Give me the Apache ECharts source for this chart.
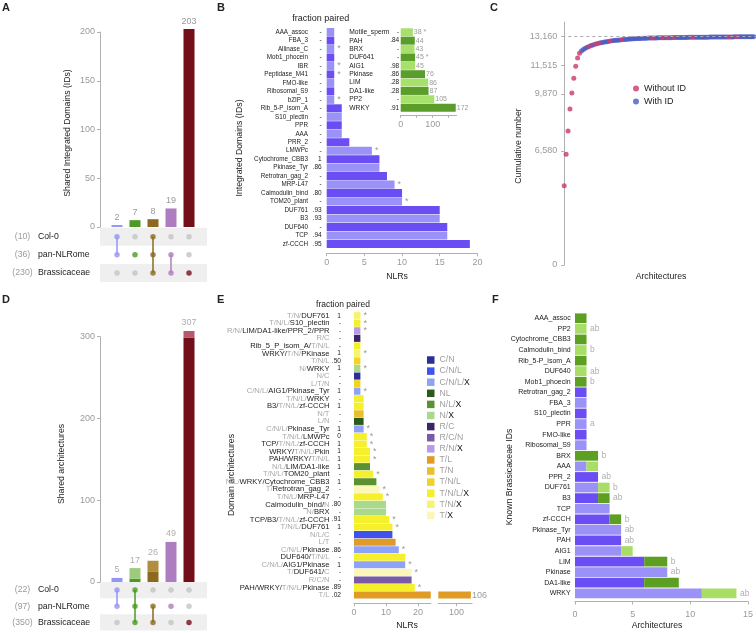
<!DOCTYPE html>
<html><head><meta charset="utf-8">
<script src="https://cdn.jsdelivr.net/npm/echarts@6/dist/echarts.min.js"></script>
<style>html,body{margin:0;padding:0;background:#fff}#c{width:756px;height:633px}</style>
</head><body><div id="c"></div>
<script>
// ---------------- DATA ----------------
// Panel A (UpSet of integrated domains)
const setNames = ['Col-0', 'pan-NLRome', 'Brassicaceae'];
const aSetSizes = [10, 36, 230];
const aValues = [2, 7, 8, 19, 203];
const aMembers = [[1,1,0],[0,1,0],[1,1,1],[0,1,1],[0,0,1]];
// Panel D (UpSet of architectures)
const dSetSizes = [22, 97, 350];
const dLower = [5, 4, 13, 49, 299];
const dUpper = [0, 13, 13, 0, 8];
const dMembers = [[1,1,0],[1,1,1],[0,1,1],[0,1,0],[0,0,1]];
// Panel B (integrated domains)
const bNames = ['AAA_assoc','FBA_3','Allinase_C','Mob1_phocein','IBR','Peptidase_M41','FMO-like','Ribosomal_S9','bZIP_1','Rib_5-P_isom_A','S10_plectin','PPR','AAA','PRR_2','LMWPc','Cytochrome_CBB3','Pkinase_Tyr','Retrotran_gag_2','MRP-L47','Calmodulin_bind','TOM20_plant','DUF761','B3','DUF640','TCP','zf-CCCH'];
const bValues = [1,1,1,1,1,1,1,1,1,2,2,2,2,3,6,7,7,8,9,10,10,15,15,16,16,19];
const bFrac = ['-','-','-','-','-','-','-','-','-','-','-','-','-','-','-','1','.86','-','-','.80','-','.93','.93','-','.94','.95'];
const bStars = [2,4,5,8,14,18,20];
// Panel B inset
const biNames = ['Motile_sperm','PAH','BRX','DUF641','AIG1','Pkinase','LIM','DA1-like','PP2','WRKY'];
const biValues = [38,44,43,45,45,76,86,87,105,172];
const biFrac = ['-','.84','-','-','.98','.86','.28','.28','-','.91'];
const biStars = [0,3];
// Panel C (cumulative architectures)
const cumNLR = [4570,6380,7720,8990,9910,10760,11450,11930,12200,12330,
  12420,12490,12550,12600,12645,12685,12720,12750,12780,12805,
  12830,12850,12870,12888,12905,12920,12935,12948,12960,12972,
  12983,12993,13003,13012,13020,13028,13035,13042,13048,13054,
  13059,13064,13069,13073,13077,13080,13083,13086,13089,13091,
  13093,13095,13097,13099,13101,13103,13105,13107,13109,13111,
  13113,13114,13116,13117,13119,13120,13122,13123,13124,13126,
  13127,13128,13130,13131,13132,13133,13135,13136,13137,13138,
  13139,13140,13141,13143,13144,13145,13146,13147,13148,13149,
  13150,13151,13152,13153,13154,13155,13156,13157,13158,13160];
const noIdRanks = [0,1,2,3,4,5,6,7,8,13,16,18,24,30,46,51,54,57,67,86,90];
const cTicks = [0, 6580, 9870, 11515, 13160];
// Panel E (domain architectures)
const eNames = ['T/N/DUF761','T/N/L/S10_plectin','R/N/LIM/DA1-like/PPR_2/PPR','R/C','Rib_5_P_isom_A/T/N/L','WRKY/T/N/PKinase','T/N/L','N/WRKY','N/C','L/T/N','C/N/L/AIG1/Pkinase_Tyr','T/N/L/WRKY','B3/T/N/L/zf-CCCH','N/T','L/N','C/N/L/Pkinase_Tyr','T/N/L/LMWPc','TCP/T/N/L/zf-CCCH','WRKY/T/N/L/Pkin','PAH/WRKY/T/N/L','N/L/LIM/DA1-like','T/N/L/TOM20_plant','N/L/WRKY/Cytochrome_CBB3','T/Retrotran_gag_2','T/N/L/MRP-L47','Calmodulin_bind/N','N/BRX','TCP/B3/T/N/L/zf-CCCH','T/N/L/DUF761','N/L/C','L/T','C/N/L/Pkinase','DUF640/T/N/L','C/N/L/AIG1/Pkinase','T/DUF641/C','R/C/N','PAH/WRKY/T/N/L/Pkinase','T/L'];
const eValues = [2,2,2,2,2,2,2,2,2,2,2,3,3,3,3,3,4,4,5,5,5,6,7,8,9,10,10,11,12,12,13,14,16,16,18,18,19,106];
const eFrac = ['1','-','-','-','-','1','.50','1','-','-','1','-','1','-','-','1','0','1','1','1','1','-','1','-','-','.80','-','.91','1','-','-','.86','-','1','-','-','.89','.02'];
const eType = ['T/N/X','T/N/L/X','R/N/X','R/C','T/N/L/X','T/N/X','T/N/L','N/X','C/N','T/N/L','C/N/L/X','T/N/L/X','T/N/L/X','T/N','NL','C/N/L/X','T/N/L/X','T/N/L/X','T/N/L/X','T/N/L/X','N/L/X','T/N/L/X','N/L/X','T/X','T/N/L/X','N/X','N/X','T/N/L/X','T/N/L/X','C/N/L','T/L','C/N/L/X','T/N/L/X','C/N/L/X','T/X','R/C/N','T/N/L/X','T/L'];
const eStars = [0,1,2,5,7,10,15,16,17,18,19,21,23,24,27,28,31,33,34,36];
const eTypes = ['C/N','C/N/L','C/N/L/X','NL','N/L/X','N/X','R/C','R/C/N','R/N/X','T/L','T/N','T/N/L','T/N/L/X','T/N/X','T/X'];
const eTicks2 = [100];
// Panel F (known Brassicaceae IDs)
const fNames = ['AAA_assoc','PP2','Cytochrome_CBB3','Calmodulin_bind','Rib_5-P_isom_A','DUF640','Mob1_phoecin','Retrotran_gag_2','FBA_3','S10_plectin','PPR','FMO-like','Ribosomal_S9','BRX','AAA','PPR_2','DUF761','B3','TCP','zf-CCCH','Pkinase_Tyr','PAH','AIG1','LIM','Pkinase','DA1-like','WRKY'];
const fPurple = [0,0,0,0,0,0,0,1,1,1,1,1,1,0,1,2,2,2,3,3,4,4,4,6,8,6,11];
const fGreen  = [1,1,1,1,1,1,1,0,0,0,0,0,0,2,1,0,1,1,0,1,0,0,1,2,0,3,3];
const fLetters = ['','ab','','b','','ab','b','','','','a','','','b','','ab','b','ab','','b','ab','ab','','b','ab','','ab'];

// ---------------- STYLE ----------------
const FONT = "'Liberation Sans', Arial, Helvetica, sans-serif";
const GR = '#9a9a9a';
const AXC = '#b0b0b0';
const TXT = '#222';
const upColors = ['#9595f7', '#4c9a23', '#8b6a1f', '#b07cc0', '#720f1a'];
const dUpColors = ['#9595f7', '#9ccb7b', '#b08d3f', '#b07cc0', '#b45a70'];
const PD = '#6b4ef3', PL = '#9b92f7', GD = '#5c9f22', GL = '#a8de66';
const typeColor = {'C/N':'#2a2f98','C/N/L':'#3f52ee','C/N/L/X':'#8ea2f6','NL':'#2c5a1d','N/L/X':'#5b9132','N/X':'#a9d98b','R/C':'#3b2566','R/C/N':'#7a5aa8','R/N/X':'#b99ae9','T/L':'#e09b26','T/N':'#e8bf2c','T/N/L':'#f0d324','T/N/L/X':'#f6ef2c','T/N/X':'#f8f36e','T/X':'#fbf7b9'};

const tickLbl = (m) => ({color: GR, fontSize: 9, fontFamily: FONT, margin: m});
const grayTok = new Set(['C','N','L','T','R']);
function richArch(name) {
  const parts = name.split('/');
  const segs = [];
  parts.forEach((p, i) => {
    const cls = grayTok.has(p) ? 'g' : 'k';
    const t = p + (i < parts.length - 1 ? '/' : '');
    if (segs.length && segs[segs.length - 1].cls === cls) segs[segs.length - 1].text += t;
    else segs.push({cls, text: t});
  });
  return segs.map(s => '{' + s.cls + '|' + s.text + '}').join('');
}

function upset(members, colors, xi, yi) {
  const dots = [], out = [];
  members.forEach((m, i) => {
    m.forEach((v, j) => dots.push({value: [i, j], itemStyle: {color: v ? colors[i] : '#c4c4c4'}}));
    const on = m.map((v, j) => v ? j : -1).filter(j => j >= 0);
    if (on.length > 1) out.push({type: 'line', xAxisIndex: xi, yAxisIndex: yi, data: [[i, on[0]], [i, on[on.length - 1]]], symbol: 'none', lineStyle: {color: colors[i], width: 1.5}, z: 2, silent: true});
  });
  out.push({type: 'scatter', xAxisIndex: xi, yAxisIndex: yi, data: dots, symbolSize: 5.5, z: 3, silent: true});
  return out;
}
function setAxis(gi, sizes) {
  return {type: 'category', gridIndex: gi, position: 'left', data: setNames, inverse: true,
    axisLine: {show: false}, axisTick: {show: false},
    splitArea: {show: true, areaStyle: {color: ['#efefef', 'rgba(255,255,255,0)']}},
    axisLabel: {interval: 0, align: 'left', margin: 88, formatter: (v, i) => '{g|(' + sizes[i] + ')}{k|' + v + '}',
      rich: {g: {color: GR, fontSize: 8.7, fontFamily: FONT, width: 21, align: 'right'},
             k: {color: TXT, fontSize: 8.7, fontFamily: FONT, padding: [0, 0, 0, 5]}}}};
}
const hiddenVal = (gi, min, max) => ({type: 'value', gridIndex: gi, min, max, show: false});

// ---------------- OPTION ----------------
const grids = [
  {left: 108, top: 32, width: 90, height: 195},        // 0 A bars
  {left: 100, top: 227.7, width: 107, height: 54.3},   // 1 A matrix
  {left: 326.7, top: 27.8, width: 150.7, height: 220.4}, // 2 B
  {left: 400.7, top: 28.1, width: 56, height: 83.8},   // 3 B inset
  {left: 562.3, top: 22.1, width: 193.4, height: 242.9}, // 4 C
  {left: 108, top: 336.7, width: 90, height: 245.3},   // 5 D bars
  {left: 100, top: 582, width: 107, height: 48.5},     // 6 D matrix
  {left: 354, top: 311.9, width: 76.8, height: 286.9}, // 7 E1
  {left: 438.3, top: 311.9, width: 33.8, height: 286.9}, // 8 E2
  {left: 575, top: 313, width: 177.3, height: 285.6}   // 9 F
];
const xAxes = [
  {type: 'category', gridIndex: 0, data: aValues.map((v, i) => 'a' + i), show: false},
  hiddenVal(1, -17 / 18, 5),
  {type: 'value', gridIndex: 2, min: 0, max: 20, interval: 5, offset: 5,
    axisLine: {show: true, lineStyle: {color: AXC}}, axisTick: {show: true, length: 3, lineStyle: {color: AXC}},
    splitLine: {show: false}, axisLabel: tickLbl(5)},
  {type: 'value', gridIndex: 3, min: 0, max: 175, interval: 50, offset: 3,
    axisLine: {show: true, lineStyle: {color: AXC}}, axisTick: {show: true, length: 3, lineStyle: {color: AXC}},
    splitLine: {show: false}, axisLabel: Object.assign(tickLbl(5), {showMaxLabel: false, formatter: v => (v === 0 || v === 100) ? String(v) : ''})},
  hiddenVal(4, -1, 100),
  {type: 'category', gridIndex: 5, data: dLower.map((v, i) => 'd' + i), show: false},
  hiddenVal(6, -17 / 18, 5),
  {type: 'value', gridIndex: 7, min: 0, max: 24, interval: 10, offset: 4.5,
    axisLine: {show: true, lineStyle: {color: AXC}}, axisTick: {show: true, length: 3, lineStyle: {color: AXC}},
    splitLine: {show: false}, axisLabel: Object.assign(tickLbl(5), {showMaxLabel: false})},
  {type: 'value', gridIndex: 8, min: 92.5, max: 106.5, offset: 4.5,
    axisLine: {show: true, lineStyle: {color: AXC}},
    axisTick: {show: true, length: 3, lineStyle: {color: AXC}, customValues: eTicks2},
    splitLine: {show: false}, axisLabel: Object.assign(tickLbl(5), {customValues: eTicks2})},
  {type: 'value', gridIndex: 9, min: 0, max: 15, interval: 5, offset: 3,
    axisLine: {show: true, lineStyle: {color: AXC}}, axisTick: {show: true, length: 3, lineStyle: {color: AXC}},
    splitLine: {show: false}, axisLabel: tickLbl(8)}
];
const catLbl = (m, size, align) => ({interval: 0, margin: m, color: TXT, fontFamily: FONT, fontSize: size, align: align || 'right'});
const catAxis = (gi, data, lbl) => ({type: 'category', gridIndex: gi, position: 'left', data, inverse: true,
  axisLine: {show: false}, axisTick: {show: false}, axisLabel: lbl});
const yAxes = [
  {type: 'value', gridIndex: 0, min: 0, max: 200, interval: 50, offset: 8,
    axisLine: {show: true, lineStyle: {color: AXC}}, axisTick: {show: true, length: 3, lineStyle: {color: AXC}},
    splitLine: {show: false}, axisLabel: tickLbl(5)},
  setAxis(1, aSetSizes),
  catAxis(2, bNames, catLbl(18.7, 6.3)),
  catAxis(2, bFrac, catLbl(5, 6.5)),
  catAxis(3, biNames, catLbl(51.4, 6.7, 'left')),
  catAxis(3, biFrac, catLbl(1.5, 6.5)),
  {type: 'value', gridIndex: 4, min: 0, max: 14000,
    axisLine: {show: true, lineStyle: {color: AXC}},
    axisTick: {show: true, length: 3, lineStyle: {color: AXC}, customValues: cTicks},
    splitLine: {show: false},
    axisLabel: Object.assign(tickLbl(5), {customValues: cTicks, formatter: v => Number(v).toLocaleString('en-US')})},
  {type: 'value', gridIndex: 5, min: 0, max: 300, interval: 100, offset: 8,
    axisLine: {show: true, lineStyle: {color: AXC}}, axisTick: {show: true, length: 3, lineStyle: {color: AXC}},
    splitLine: {show: false}, axisLabel: tickLbl(5)},
  setAxis(6, dSetSizes),
  catAxis(7, eNames, {interval: 0, margin: 24.5, align: 'right', formatter: v => richArch(v),
      rich: {g: {color: '#a8a8a8', fontFamily: FONT, fontSize: 7.6}, k: {color: TXT, fontFamily: FONT, fontSize: 7.6}}}),
  catAxis(7, eFrac, catLbl(13, 6.6)),
  {type: 'category', gridIndex: 8, data: eNames, inverse: true, show: false},
  catAxis(9, fNames, catLbl(4.3, 7))
];

const series = [];
// A
series.push({type: 'bar', xAxisIndex: 0, yAxisIndex: 0, barWidth: 11, clip: false, silent: true,
  data: aValues.map((v, i) => ({value: v, itemStyle: {color: upColors[i]}})),
  label: {show: true, position: 'top', distance: 3, color: GR, fontSize: 9, fontFamily: FONT}});
series.push(...upset(aMembers, upColors, 1, 1));
// D
series.push({type: 'bar', xAxisIndex: 5, yAxisIndex: 7, barWidth: 11, stack: 'd', clip: false, silent: true,
  data: dLower.map((v, i) => ({value: v, itemStyle: {color: upColors[i]}}))});
series.push({type: 'bar', xAxisIndex: 5, yAxisIndex: 7, barWidth: 11, stack: 'd', clip: false, silent: true,
  data: dUpper.map((v, i) => ({value: v || null, itemStyle: {color: dUpColors[i]}}))});
series.push({type: 'scatter', xAxisIndex: 5, yAxisIndex: 7, symbolSize: 1, clip: false, silent: true,
  itemStyle: {color: 'rgba(0,0,0,0)'},
  data: dLower.map((v, i) => v + dUpper[i]),
  label: {show: true, position: 'top', distance: 3, color: GR, fontSize: 9, fontFamily: FONT}});
series.push(...upset(dMembers, upColors, 6, 8));
// B
series.push({type: 'bar', xAxisIndex: 2, yAxisIndex: 2, barCategoryGap: '5%', silent: true,
  data: bValues.map((v, i) => ({value: v, itemStyle: {color: i % 2 ? PD : PL}})),
  label: {show: true, position: 'right', distance: 3, color: GR, fontSize: 9, fontFamily: FONT,
    formatter: p => bStars.includes(p.dataIndex) ? '*' : ''}});
series.push({type: 'bar', xAxisIndex: 3, yAxisIndex: 4, barCategoryGap: '5%', silent: true,
  data: biValues.map((v, i) => ({value: v, itemStyle: {color: i % 2 ? '#5b9d2b' : '#a7e06a'}})),
  label: {show: true, position: 'right', distance: 1, color: GR, fontSize: 7, fontFamily: FONT,
    formatter: p => p.value + (biStars.includes(p.dataIndex) ? ' *' : '')}});
// C
const noId = new Set(noIdRanks);
series.push({type: 'scatter', name: 'With ID', xAxisIndex: 4, yAxisIndex: 6, symbolSize: 5, silent: true,
  itemStyle: {color: '#4a5ac6'},
  data: cumNLR.map((v, i) => [i, v]).filter((d) => !noId.has(d[0])),
  markLine: {silent: true, symbol: 'none', label: {show: false},
    lineStyle: {color: '#aaa', type: [3, 3], width: 1}, data: [{yAxis: 13160}]}});
series.push({type: 'scatter', name: 'Without ID', xAxisIndex: 4, yAxisIndex: 6, symbolSize: 5, silent: true,
  itemStyle: {color: '#c9386c'},
  data: cumNLR.map((v, i) => [i, v]).filter((d) => noId.has(d[0]))});
// E
eTypes.forEach(t => {
  series.push({type: 'bar', name: t, stack: 'e', xAxisIndex: 7, yAxisIndex: 9, barCategoryGap: '6%', silent: true,
    itemStyle: {color: typeColor[t]},
    data: eValues.map((v, i) => eType[i] === t ? v : null),
    label: {show: true, position: 'right', distance: 3, color: GR, fontSize: 9, fontFamily: FONT,
      formatter: p => eStars.includes(p.dataIndex) ? '*' : ''}});
});
series.push({type: 'bar', xAxisIndex: 8, yAxisIndex: 11, barCategoryGap: '6%', silent: true,
  data: eValues.map((v, i) => v > 24 ? {value: v, itemStyle: {color: typeColor[eType[i]]}} : null),
  label: {show: true, position: 'right', distance: 1, color: GR, fontSize: 9, fontFamily: FONT}});
// F
const fDark = i => i < 7 ? i % 2 === 0 : i % 2 === 1;
series.push({type: 'bar', stack: 'f', xAxisIndex: 9, yAxisIndex: 12, barCategoryGap: '8%', silent: true,
  data: fPurple.map((v, i) => v ? {value: v, itemStyle: {color: fDark(i) ? PD : PL}} : null)});
series.push({type: 'bar', stack: 'f', xAxisIndex: 9, yAxisIndex: 12, barCategoryGap: '8%', silent: true,
  data: fGreen.map((v, i) => v ? {value: v, itemStyle: {color: fDark(i) ? GD : GL}} : null)});
series.push({type: 'scatter', xAxisIndex: 9, yAxisIndex: 12, symbolSize: 1, silent: true,
  itemStyle: {color: 'rgba(0,0,0,0)'},
  data: fPurple.map((v, i) => [v + fGreen[i], i]),
  label: {show: true, position: 'right', distance: 3, color: GR, fontSize: 8.5, fontFamily: FONT,
    formatter: p => fLetters[p.dataIndex]}});

// texts
function txt(t, x, y, o) {
  o = o || {};
  return {type: 'text', x, y, rotation: o.rot || 0, silent: true,
    style: {text: t, fill: o.fill || TXT, font: o.font || ('8.7px ' + FONT),
      textAlign: o.align || 'center', textVerticalAlign: o.va || 'middle'}};
}
const BOLD = 'bold 11px ' + FONT;
const graphics = [
  txt('A', 2, 8, {font: BOLD, align: 'left'}),
  txt('B', 217, 8, {font: BOLD, align: 'left'}),
  txt('C', 490, 8, {font: BOLD, align: 'left'}),
  txt('D', 2, 300, {font: BOLD, align: 'left'}),
  txt('E', 217, 300, {font: BOLD, align: 'left'}),
  txt('F', 492, 300, {font: BOLD, align: 'left'}),
  txt('fraction paired', 320.8, 18.3, {font: '9px ' + FONT}),
  txt('fraction paired', 343, 305, {font: '8.5px ' + FONT}),
  txt('Shared Integrated Domains (IDs)', 68, 133, {rot: Math.PI / 2}),
  txt('Integrated Domains (IDs)', 240, 148, {rot: Math.PI / 2}),
  txt('Cumulative number', 519, 146, {rot: Math.PI / 2}),
  txt('Shared architectures', 62, 464, {rot: Math.PI / 2}),
  txt('Domain architectures', 232, 475, {rot: Math.PI / 2}),
  txt('Known Brassicaceae IDs', 510, 477, {rot: Math.PI / 2}),
  txt('NLRs', 397, 277),
  txt('Architectures', 661, 277),
  txt('NLRs', 407, 626),
  txt('Architectures', 657, 626)
];

const option = {
  animation: false,
  backgroundColor: '#fff',
  textStyle: {fontFamily: FONT},
  grid: grids, xAxis: xAxes, yAxis: yAxes, series,
  legend: [
    {data: ['Without ID', 'With ID'], orient: 'vertical', left: 628, top: 79, icon: 'circle',
      itemWidth: 6, itemHeight: 6, itemGap: 4, selectedMode: false,
      textStyle: {color: TXT, fontSize: 9, fontFamily: FONT}},
    {data: eTypes, orient: 'vertical', left: 422, top: 350, icon: 'rect',
      itemWidth: 7.5, itemHeight: 7.5, itemGap: 1.1, selectedMode: false,
      formatter: n => n.endsWith('/X') ? '{g|' + n.slice(0, -1) + '}{k|X}' : '{g|' + n + '}',
      textStyle: {fontSize: 8.7, lineHeight: 10, fontFamily: FONT,
        rich: {g: {color: '#a0a0a0', fontSize: 8.7, fontFamily: FONT}, k: {color: '#111', fontSize: 8.7, fontFamily: FONT}}}}
  ],
  graphic: graphics
};
const chart = echarts.init(document.getElementById('c'));
chart.setOption(option);
</script></body></html>
